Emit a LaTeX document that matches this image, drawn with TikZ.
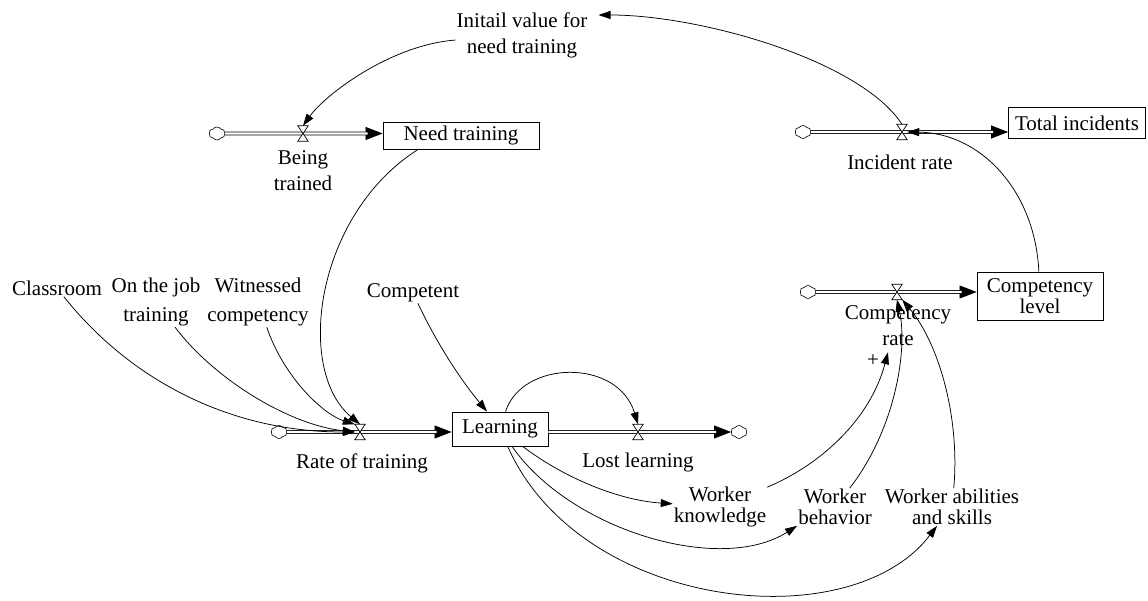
\documentclass[tikz,border=0pt]{standalone}
\usepackage{fontspec}
\setmainfont{Liberation Serif}
\usetikzlibrary{arrows.meta,shapes.symbols}
\begin{document}
\begin{tikzpicture}[x=1pt,y=-1pt,
 every node/.style={font=\fontsize{21}{26}\selectfont},
 lbl/.style={align=center, inner sep=1pt},
 tight/.style={font=\fontsize{21}{20.5}\selectfont},
 stock/.style={draw, line width=0.9pt, inner sep=0pt},
 valve/.style={inner sep=0pt, minimum width=10pt, minimum height=15pt},
 valveshape/.style={line width=0.7pt, fill=white},
 cloudn/.style={cloud, draw, cloud puffs=6, cloud puff arc=110, aspect=1.15, minimum width=16pt, minimum height=13pt, inner sep=0pt, line width=0.6pt, fill=white},
 link/.style={line width=0.75pt, -{Triangle[length=12pt,width=8pt]}},
 pipe/.style={double, double distance=2.2pt, line width=0.8pt},
 pipetip/.style={line width=0.8pt, -{Triangle[length=17pt,width=13pt]}},
]
\useasboundingbox (0,0) rectangle (1148,601);

% stocks
\node[stock, minimum width=156pt, minimum height=27pt] (need) at (461,135.5) {Need training};
\node[stock, minimum width=137pt, minimum height=31pt] (ti) at (1077,123) {Total incidents};
\node[stock, minimum width=126pt, minimum height=48pt, align=center, font=\fontsize{21}{21}\selectfont] (cl) at (1040,296) {Competency\\level};
\node[stock, minimum width=96pt, minimum height=34pt] (learn) at (500,429) {Learning};

% clouds
\node[cloudn] (c1) at (217,133.5) {};
\node[cloudn] (c2) at (803,132) {};
\node[cloudn] (c3) at (808,292) {};
\node[cloudn] (c4) at (279,432) {};
\node[cloudn] (c5) at (739,432) {};

% pipes
\draw[pipetip] (c1) -- ([yshift=2pt]need.west);
\draw[pipe, shorten >=15pt] (c1) -- ([yshift=2pt]need.west);
\draw[pipetip] (c2) -- ([yshift=-9pt]ti.west);
\draw[pipe, shorten >=15pt] (c2) -- ([yshift=-9pt]ti.west);
\draw[pipetip] (c3) -- ([yshift=4pt]cl.west);
\draw[pipe, shorten >=15pt] (c3) -- ([yshift=4pt]cl.west);
\draw[pipetip] (c4) -- ([yshift=-3pt]learn.west);
\draw[pipe, shorten >=15pt] (c4) -- ([yshift=-3pt]learn.west);
\draw[pipetip] ([yshift=-3pt]learn.east) -- (c5);
\draw[pipe, shorten >=15pt] ([yshift=-3pt]learn.east) -- (c5);

% valves
\node[valve] (bv) at (303,133.5) {};
\node[valve] (iv) at (902,132) {};
\node[valve] (cv) at (897,292) {};
\node[valve] (rv) at (360,432) {};
\node[valve] (lv) at (638,432) {};
\foreach \v in {bv,iv,cv,rv,lv}
  \draw[valveshape] (\v.north west) -- (\v.north east) -- (\v.south west) -- (\v.south east) -- cycle;

% labels
\node[lbl] (bt) at (303,171) {Being\\trained};
\node[lbl] (ir) at (900,162) {Incident rate};
\node[lbl] (crate) at (898,326) {Competency\\rate};
\node[lbl] (rot) at (362,463) {Rate of training};
\node[lbl] (ll) at (638,462) {Lost learning};
\node[lbl] (init) at (522,35) {Initail value for\\need training};
\node[lbl] (cls) at (57,288) {Classroom};
\node[lbl, font=\fontsize{21}{29}\selectfont] (job) at (156,302) {On the job\\training};
\node[lbl, font=\fontsize{21}{29}\selectfont] (wit) at (258,302) {Witnessed\\competency};
\node[lbl] (comp) at (413,293) {Competent};
\node[lbl, tight] (wk) at (720,507) {Worker\\knowledge};
\node[lbl, tight] (wb) at (835,507) {Worker\\behavior};
\node[lbl, tight] (wa) at (952,507) {Worker abilities\\and skills};
\node[inner sep=0pt] (plus) at (873,361) {+};

% links
\draw[link] (init) .. controls (390,45) and (325,95) .. (bv.north);
\draw[link] ([xshift=-43pt]need.south) .. controls (315,215) and (295,370) .. (rv.north);
\draw[link] (cls) .. controls (130,380) and (230,432) .. (rv.west);
\draw[link] (job) .. controls (215,380) and (290,425) .. (rv.west);
\draw[link] (wit) .. controls (285,380) and (325,415) .. (rv.north west);
\draw[link] (comp) .. controls (440,350) and (465,385) .. ([xshift=-13pt]learn.north);
\draw[link] (learn) .. controls (522,360) and (618,358) .. (lv.north);
\draw[link] (learn) .. controls (560,475) and (615,500) .. (wk);
\draw[link] (learn) .. controls (570,530) and (720,575) .. (wb.south west);
\draw[link] (learn) .. controls (580,610) and (850,640) .. ([xshift=-15pt]wa.south);
\draw[link] (wk) .. controls (820,465) and (870,420) .. ([xshift=-10pt,yshift=-5pt]crate.south);
\draw[link] (wb) .. controls (895,430) and (908,350) .. (cv.south);
\draw[link] (wa) .. controls (960,420) and (940,345) .. (cv.south east);
\draw[link] (cl) .. controls (1035,190) and (980,133) .. (iv.east);
\draw[link] (iv.north) .. controls (860,60) and (700,15) .. ([xshift=10pt,yshift=20pt]init.east);
\end{tikzpicture}
\end{document}
